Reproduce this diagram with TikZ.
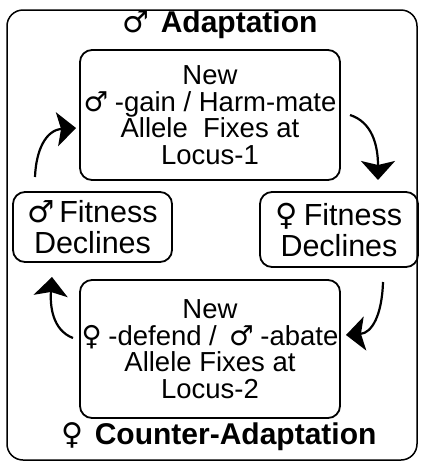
\documentclass[tikz,border=0pt]{standalone}
\usepackage{fontspec}
\setmainfont{Liberation Sans}
\newfontfamily\symf{DejaVu Sans}
\usetikzlibrary{arrows.meta}
\newcommand{\male}{{\mdseries\symf\char"2642}}
\newcommand{\female}{{\mdseries\symf\char"2640}}
\begin{document}
\begin{tikzpicture}[x=1pt,y=-1pt,
  box/.style={draw,line width=1.8pt,rounded corners=12pt,align=center,inner sep=0pt,
    font=\fontsize{27.5}{26.5}\selectfont},
  lbl/.style={font=\fontsize{30}{30}\selectfont\bfseries,inner sep=0pt},
  conn/.style={line width=2.2pt,-{Stealth[length=19pt,width=34pt,inset=4pt]}}]
\useasboundingbox (0,0) rectangle (422,464);
\draw[line width=1.5pt,rounded corners=16pt] (7,10) rectangle (417,460);
\node[lbl] (tlab) at (220,25) {\male{}\hspace{3pt} Adaptation};
\node[lbl] (blab) at (219,437) {\female{}\hspace{3pt} Counter-Adaptation};
\node[box,minimum width=260pt,minimum height=130pt] (top) at (210,115)
  {New\\\male{}\hspace{-1pt} -gain / Harm-mate\\Allele~ Fixes at\\Locus-1};
\node[box,minimum width=260pt,minimum height=138pt] (bot) at (210,349)
  {New\\\female{}\hspace{-1pt} -defend / \,\male{}\hspace{-1pt} -abate\\Allele Fixes at\\Locus-2};
\node[box,minimum width=159pt,minimum height=70pt,font=\fontsize{30.5}{31}\selectfont] (left) at (92.5,227)
  {\male{}\hspace{-4pt} Fitness\\Declines};
\node[box,minimum width=158pt,minimum height=75pt,font=\fontsize{30.5}{31}\selectfont] (right) at (339,229.5)
  {\female{}\hspace{-3pt} Fitness\\Declines};
\coordinate (a1) at (35,177);
\coordinate (a2) at (76,128);
\coordinate (b1) at (350,115);
\coordinate (b2) at (378,180);
\coordinate (c1) at (383,282);
\coordinate (c2) at (346,335);
\coordinate (d1) at (73,338);
\coordinate (d2) at (52,277);
\draw[conn] (a1) .. controls (36,150) and (46,130) .. (a2);
\draw[conn] (b1) .. controls (372,122) and (378,145) .. (b2);
\draw[conn] (c1) .. controls (382,315) and (372,333) .. (c2);
\draw[conn] (d1) .. controls (52,330) and (50,305) .. (d2);
\end{tikzpicture}
\end{document}
